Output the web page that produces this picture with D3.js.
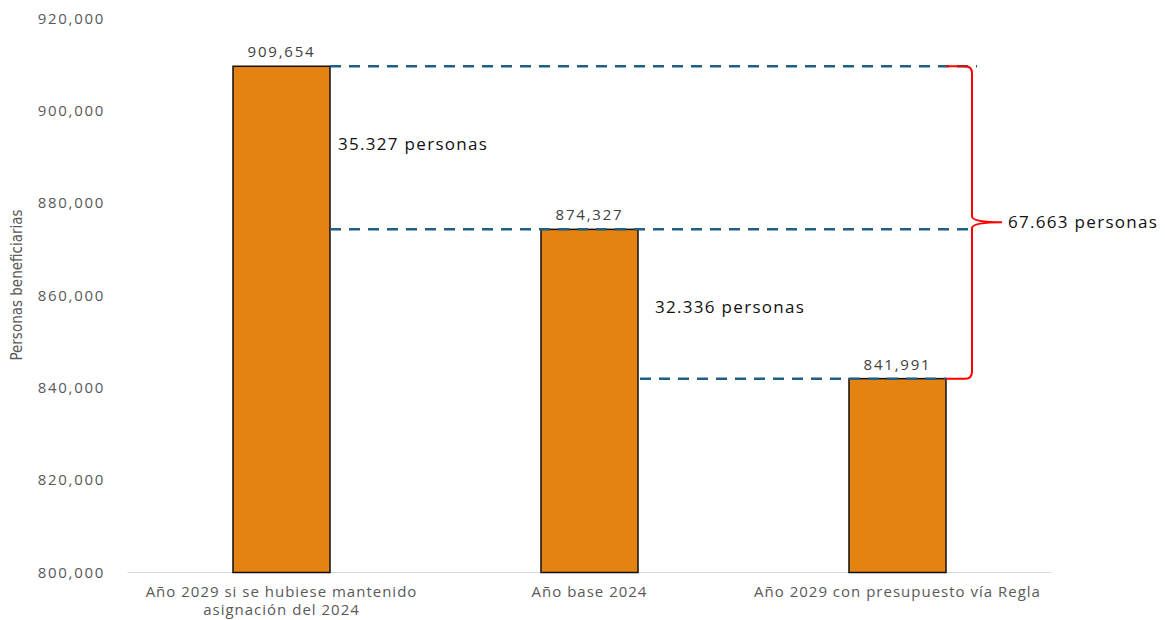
<!DOCTYPE html>
<html><head><meta charset="utf-8">
<script src="https://cdn.jsdelivr.net/npm/d3@7"></script>
<style>
html,body{margin:0;padding:0;background:#fff;}
svg{display:block;}
</style></head>
<body>
<script>
const categories = ["Año 2029 si se hubiese mantenido|asignación del 2024", "Año base 2024", "Año 2029 con presupuesto vía Regla"];
const values = [909654, 874327, 841991];
const valueLabels = ["909,654", "874,327", "841,991"];
const yTicks = [800000, 820000, 840000, 860000, 880000, 900000, 920000];
const diffLabels = ["35.327 personas", "32.336 personas", "67.663 personas"];
const yTitle = "Personas beneficiarias";

const W = 1165, H = 620;
const svg = d3.select("body").append("svg").attr("width", W).attr("height", H);
const font = "'Open Sans','Noto Sans',sans-serif";

const x = d3.scaleBand().domain(categories).range([127.5, 1051.5]).paddingInner(0.685).paddingOuter(0.3425);
const y = d3.scaleLinear().domain([800000, 920000]).range([572.5, 18.5]);

// axis baseline
svg.append("line").attr("x1", 127.5).attr("x2", 1051.5).attr("y1", y(800000)).attr("y2", y(800000))
  .attr("stroke", "#d9d9d9").attr("stroke-width", 1.2);

// y axis tick labels
const yAxis = d3.axisLeft(y).tickValues(yTicks).tickFormat(d3.format(",")).tickSize(0).tickPadding(0);
const gy = svg.append("g").attr("transform", "translate(105,0)").call(yAxis);
gy.select(".domain").remove();
gy.selectAll("text").attr("font-family", font).attr("font-size", 15).attr("letter-spacing", 1.7).attr("fill", "#595959");

// y title
svg.append("text").attr("transform", "translate(22,285) rotate(-90)").attr("text-anchor", "middle")
  .attr("font-family", "'DejaVu Sans Condensed','Liberation Sans Narrow',sans-serif").attr("font-stretch", "condensed")
  .attr("font-size", 15).attr("fill", "#595959").text(yTitle);

// bars
svg.selectAll("rect.bar").data(values).enter().append("rect").attr("class", "bar")
  .attr("x", (d, i) => x(categories[i])).attr("width", x.bandwidth())
  .attr("y", d => y(d)).attr("height", d => y(800000) - y(d))
  .attr("fill", "#e48312").attr("stroke", "#111").attr("stroke-width", 1.5);

// value labels
svg.selectAll("text.val").data(values).enter().append("text").attr("class", "val")
  .attr("x", (d, i) => x(categories[i]) + x.bandwidth() / 2).attr("y", d => y(d) - 9)
  .attr("text-anchor", "middle").attr("font-family", font).attr("font-size", 15).attr("letter-spacing", 1.8).attr("fill", "#404040")
  .text((d, i) => valueLabels[i]);

// category labels
categories.forEach((c, i) => {
  const cx = x(c) + x.bandwidth() / 2;
  const t = svg.append("text").attr("x", cx).attr("y", 597)
    .attr("text-anchor", "middle").attr("font-family", font).attr("font-size", 15).attr("letter-spacing", 1)
    .attr("fill", "#595959");
  c.split("|").forEach((line, j) => t.append("tspan").attr("x", cx).attr("dy", j ? 18 : 0).text(line));
});

// dashed reference lines
const bx = i => x(categories[i]);
const bw = x.bandwidth();
const dashes = [
  {v: values[0], x1: bx(0) + bw, x2: 977},
  {v: values[1], x1: bx(0) + bw, x2: 972},
  {v: values[2], x1: bx(1) + bw + 2, x2: bx(2) + bw}
];
svg.selectAll("line.dash").data(dashes).enter().append("line").attr("class", "dash")
  .attr("x1", d => d.x1).attr("x2", d => d.x2).attr("y1", d => y(d.v)).attr("y2", d => y(d.v))
  .attr("stroke", "#1f6084").attr("stroke-width", 2.5).attr("stroke-dasharray", "11,8");

// difference annotations
const annStyle = t => t.attr("font-family", font).attr("font-size", 17).attr("letter-spacing", 1.3).attr("fill", "#111");
svg.append("text").attr("x", bx(0) + bw + 8).attr("y", y((values[0] + values[1]) / 2) + 2)
  .call(annStyle).text(diffLabels[0]);
svg.append("text").attr("x", bx(1) + bw + 17).attr("y", y((values[1] + values[2]) / 2) + 9)
  .call(annStyle).text(diffLabels[1]);

// red brace
const yt = y(values[0]), yb = y(values[2]), ym = y(values[1]) - 7;
const x0 = bx(2) + bw, xv = 972, xp = 1002;
const r = 7;
const path = `M${x0},${yt} L${xv - r},${yt} Q${xv},${yt} ${xv},${yt + r} L${xv},${ym - 6} Q${xv},${ym} ${xp},${ym}`
  + ` Q${xv},${ym} ${xv},${ym + 6} L${xv},${yb - r} Q${xv},${yb} ${xv - r},${yb} L${x0},${yb}`;
svg.append("path").attr("d", path).attr("fill", "none").attr("stroke", "#ff0000").attr("stroke-width", 2);
svg.append("text").attr("x", 1008).attr("y", ym + 6).call(annStyle).text(diffLabels[2]);
</script>
</body></html>
